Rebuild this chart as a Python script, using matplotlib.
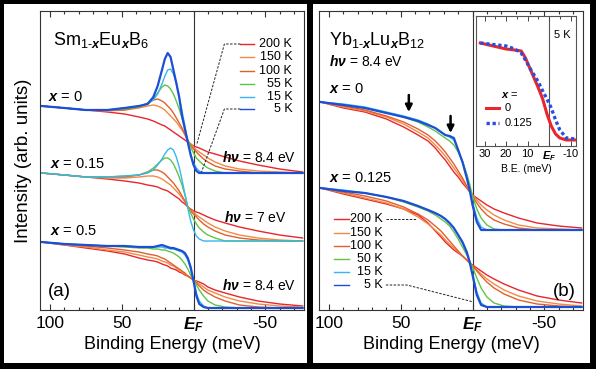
import matplotlib
matplotlib.use('Agg')
import matplotlib.pyplot as plt
from matplotlib.patches import Rectangle
from matplotlib.ticker import MultipleLocator

plt.rcParams['font.family'] = ['Liberation Sans', 'DejaVu Sans']
plt.rcParams['mathtext.fontset'] = 'custom'
plt.rcParams['mathtext.rm'] = 'Liberation Sans'
plt.rcParams['mathtext.it'] = 'Liberation Sans:italic'
plt.rcParams['mathtext.bf'] = 'Liberation Sans:bold'
plt.rcParams['mathtext.bfit'] = 'Liberation Sans:italic:bold'

# ---- data (binding energy in meV, intensity in arb. units incl. offsets) ----
temps_a = ['200 K', '150 K', '100 K', '55 K', '15 K', '5 K']
temps_b = ['200 K', '150 K', '100 K', '50 K', '15 K', '5 K']
colors = ['#e8262b', '#f28a46', '#e0602c', '#5fc447', '#38b6ee', '#1c4fd6']
widths = [1.0, 1.0, 1.0, 1.0, 1.0, 1.6]

energy_a = [106, 90, 75, 60, 48, 38, 32, 28, 25, 22, 20, 18, 16, 14, 12, 10,
            8, 6, 4, 2, 0, -2, -4, -7, -10, -15, -22, -32, -45, -60, -76]

# Sm1-xEuxB6, x = 0, hv = 8.4 eV
sm_x0 = [
    [204, 202, 200, 198, 196, 193, 191, 189, 187, 185, 184, 182, 180, 178, 176, 174,
     172, 170, 168, 166, 164, 163, 162, 160, 158, 156, 153, 149, 145, 141, 138],
    [204, 202, 200, 199, 200, 202, 204, 205, 204, 202, 200, 197, 194, 191, 188, 184,
     180, 175, 169, 166, 163, 160, 158, 155, 152, 148, 144, 141, 139, 138, 137],
    [204, 202, 200, 200, 200, 203, 207, 210, 211, 209, 207, 204, 201, 197, 192, 187,
     182, 176, 169, 165, 161, 158, 155, 151, 148, 144, 141, 139, 137, 137, 137],
    [204, 202, 200, 200, 201, 203, 206, 211, 217, 223, 225, 224, 221, 216, 209, 201,
     192, 181, 170, 163, 157, 152, 149, 145, 142, 139, 137, 137, 137, 137, 137],
    [204, 202, 200, 200, 202, 204, 206, 210, 216, 226, 234, 240, 241, 236, 227, 213,
     199, 184, 168, 156, 147, 142, 139, 137, 137, 137, 137, 137, 137, 137, 137],
    [204, 202, 200, 200, 202, 204, 206, 213, 224, 240, 251, 257, 253, 240, 227, 213,
     194, 181, 168, 155, 145, 139, 137, 137, 137, 137, 137, 137, 137, 137, 137],
]
# x = 0.15, hv = 7 eV (200 K ... 15 K)
sm_x015 = [
    [137, 135, 133, 131, 129, 127, 125, 124, 123, 121, 120, 119, 117, 115, 113, 111,
     108, 106, 103, 101, 99, 98, 97, 95, 93, 90, 87, 83, 79, 75, 72],
    [137, 135, 133, 132, 132, 133, 134, 134, 133, 131, 129, 127, 125, 122, 119, 116,
     112, 108, 103, 100, 98, 95, 93, 90, 87, 83, 79, 75, 72, 70, 69],
    [137, 135, 133, 133, 133, 135, 138, 140, 140, 138, 136, 133, 130, 127, 123, 119,
     114, 109, 103, 99, 96, 93, 90, 86, 83, 79, 75, 72, 70, 69, 69],
    [137, 135, 133, 133, 134, 135, 138, 142, 146, 150, 152, 152, 150, 146, 140, 133,
     125, 115, 104, 97, 91, 86, 82, 78, 75, 72, 69, 69, 69, 69, 69],
    [137, 135, 133, 133, 134, 135, 137, 140, 145, 151, 156, 160, 162, 160, 153, 143,
     130, 116, 102, 89, 80, 74, 71, 69, 69, 69, 69, 69, 69, 69, 69],
]
# x = 0.5, hv = 8.4 eV
sm_x05 = [
    [68, 65, 62, 59, 56, 52, 50, 49, 48, 46, 45, 44, 42, 41, 40, 38,
     37, 35, 34, 32, 30, 29, 28, 26, 23, 20, 17, 13, 9, 6, 4],
    [68, 65, 63, 60, 58, 55, 53, 52, 51, 49, 48, 47, 45, 44, 42, 40,
     38, 36, 34, 32, 30, 28, 26, 23, 20, 17, 13, 9, 6, 4, 3],
    [68, 66, 64, 62, 60, 58, 56, 55, 54, 52, 51, 49, 47, 45, 43, 41,
     39, 37, 34, 32, 30, 27, 24, 20, 17, 13, 9, 5, 3, 2, 2],
    [68, 66, 65, 64, 63, 62, 62, 61, 61, 60, 60, 59, 58, 57, 55, 53,
     50, 46, 41, 35, 30, 25, 20, 14, 9, 5, 3, 2, 2, 2, 2],
    [68, 66, 65, 64, 64, 63, 63, 63, 63, 63, 62, 62, 61, 61, 60, 59,
     58, 55, 50, 41, 29, 17, 9, 4, 2, 2, 2, 2, 2, 2, 2],
    [68, 66, 65, 64, 64, 63, 63, 63, 64, 65, 64, 63, 62, 62, 61, 60,
     59, 57, 52, 43, 29, 14, 6, 3, 2, 2, 2, 2, 2, 2, 2],
]

energy_b = [106, 90, 75, 60, 48, 38, 31, 26, 22, 19, 16, 13, 10, 7, 4, 2, 0,
            -3, -6, -10, -15, -22, -32, -45, -60, -76]

# Yb1-xLuxB12, x = 0
yb_x0 = [
    [208, 202, 198, 191, 183, 175, 169, 162, 155, 150, 144, 138, 133, 127, 122, 118, 115,
     112, 109, 105, 101, 97, 92, 87, 84, 82],
    [208, 203, 199, 193, 186, 178, 172, 165, 159, 154, 148, 142, 136, 130, 123, 119, 115,
     110, 105, 100, 95, 90, 85, 82, 81, 80],
    [208, 204, 200, 194, 188, 181, 175, 169, 163, 158, 152, 146, 139, 132, 124, 119, 114,
     107, 101, 95, 90, 86, 82, 80, 80, 80],
    [208, 205, 202, 197, 193, 188, 183, 179, 175, 172, 169, 165, 158, 149, 136, 126, 114,
     101, 92, 85, 81, 80, 80, 80, 80, 80],
    [208, 206, 203, 198, 194, 190, 186, 182, 178, 175, 173, 170, 160, 148, 133, 121, 108,
     92, 83, 80, 80, 80, 80, 80, 80, 80],
    [208, 205, 202, 197, 193, 189, 185, 182, 178, 175, 174, 172, 160, 148, 132, 120, 105,
     88, 80, 80, 80, 80, 80, 80, 80, 80],
]
# x = 0.125
yb_x0125 = [
    [122, 116, 111, 106, 101, 95, 87, 79, 73, 68, 64, 60, 57, 54, 50, 47, 45,
     42, 39, 35, 31, 26, 20, 14, 10, 7],
    [122, 117, 112, 107, 101, 93, 86, 80, 75, 70, 66, 62, 58, 54, 50, 47, 44,
     40, 36, 31, 26, 20, 14, 9, 6, 4],
    [122, 118, 114, 109, 103, 96, 90, 84, 79, 74, 69, 64, 59, 54, 50, 47, 44,
     39, 34, 28, 22, 16, 10, 6, 4, 3],
    [122, 119, 117, 113, 108, 103, 99, 95, 91, 88, 84, 78, 71, 63, 55, 49, 43,
     32, 22, 13, 7, 4, 3, 3, 3, 3],
    [122, 120, 117, 113, 109, 104, 100, 97, 94, 91, 87, 82, 75, 67, 57, 48, 37,
     18, 7, 3, 3, 3, 3, 3, 3, 3],
    [122, 119, 117, 113, 109, 104, 100, 97, 94, 91, 87, 82, 75, 68, 58, 48, 35,
     15, 5, 3, 3, 3, 3, 3, 3, 3],
]

# inset, 5 K
energy_inset = [32, 28, 24, 20, 16, 13, 11, 9, 7, 5, 3, 1, -1, -3, -5, -8, -12]
inset_x0 = [103, 101, 99, 97, 96, 95, 88, 78, 68, 58, 47, 32, 20, 12, 8, 6, 6]
inset_x0125 = [103, 102, 101, 100, 97, 93, 86, 78, 71, 64, 55, 47, 38, 26, 16, 8, 7]

EF = r'$\mathbfit{E}_{\mathbfit{F}}$'
HV = r'$\mathbfit{h\nu}$'


def style_axis(ax):
    ax.set_xlim(107, -77)
    ax.set_ylim(0, 299)
    ax.set_xticks([100, 50, 0, -50])
    ax.set_xticklabels(['100', '50', EF, '-50'])
    ax.get_xticklabels()[2].set_fontsize(15)
    ax.xaxis.set_minor_locator(MultipleLocator(10))
    ax.set_yticks([])
    ax.tick_params(which='both', direction='in', top=True, width=0.8,
                   color='#333', labelsize=12.5, pad=4)
    ax.tick_params(which='major', length=4.5)
    ax.tick_params(which='minor', length=2.5)
    for s in ax.spines.values():
        s.set_linewidth(0.8)
        s.set_color('#333')
    ax.axvline(0, color='#333', lw=0.8, zorder=1)
    ax.set_xlabel('Binding Energy (meV)', fontsize=13, labelpad=1)


fig = plt.figure(figsize=(5.96, 3.69), dpi=100, facecolor='black')
for x0, w in [(4, 303), (313, 277)]:
    fig.add_artist(Rectangle((x0 / 596, 6 / 369), w / 596, 359 / 369,
                             transform=fig.transFigure, facecolor='white',
                             edgecolor='none', zorder=-1))

ax_a = fig.add_axes([40 / 596, 59 / 369, 264 / 596, 299 / 369])
ax_b = fig.add_axes([319 / 596, 59 / 369, 264 / 596, 299 / 369])
ax_in = fig.add_axes([476 / 596, 223 / 369, 100 / 596, 130 / 369])

# ---- panel (a) ----
style_axis(ax_a)
for curves in (sm_x0, sm_x015, sm_x05):
    for i, row in enumerate(curves):
        ax_a.plot(energy_a, row, color=colors[i], lw=widths[i], zorder=2)
ax_a.set_ylabel('Intensity (arb. units)', fontsize=13.5, labelpad=6)

ax_a.text(98, 270, r'Sm$_{\text{1-}\mathbfit{x}}$Eu$_{\mathbfit{x}}$B$_{6}$',
          fontsize=13, ha='left', va='center')
ax_a.text(101.5, 213, r'$\mathbfit{x}$ = 0', fontsize=10.5, va='center')
ax_a.text(100, 146, r'$\mathbfit{x}$ = 0.15', fontsize=10.5, va='center')
ax_a.text(100, 79, r'$\mathbfit{x}$ = 0.5', fontsize=10.5, va='center')
ax_a.text(-71.5, 153, HV + ' = 8.4 eV', fontsize=10, ha='right', va='center')
ax_a.text(-64.6, 92, HV + ' = 7 eV', fontsize=10, ha='right', va='center')
ax_a.text(-71.5, 25, HV + ' = 8.4 eV', fontsize=10, ha='right', va='center')
ax_a.text(101.5, 18, '(a)', fontsize=13.5, va='center')

leg_rows_a = [266, 253, 239, 226, 213, 201]
for i, t in enumerate(temps_a):
    ax_a.plot([-32.6, -42.4], [leg_rows_a[i]] * 2, color=colors[i], lw=1.0)
    ax_a.text(-68.8, leg_rows_a[i], t, fontsize=9, ha='right', va='center')
ax_a.plot([-32.6, -21.5, -2.1], [266, 266, 165], color='#222', lw=0.7,
          dashes=(2.5, 1.5))
ax_a.plot([-32.6, -21.5, -5.6], [201, 201, 138], color='#222', lw=0.7,
          dashes=(2.5, 1.5))

# ---- panel (b) ----
style_axis(ax_b)
for curves in (yb_x0, yb_x0125):
    for i, row in enumerate(curves):
        ax_b.plot(energy_b, row, color=colors[i], lw=widths[i], zorder=2)

ax_b.text(100, 270, r'Yb$_{\text{1-}\mathbfit{x}}$Lu$_{\mathbfit{x}}$B$_{12}$',
          fontsize=13, ha='left', va='center')
ax_b.text(100, 248, HV + ' = 8.4 eV', fontsize=10, va='center')
ax_b.text(100, 221, r'$\mathbfit{x}$ = 0', fontsize=10.5, va='center')
ax_b.text(100, 132, r'$\mathbfit{x}$ = 0.125', fontsize=10.5, va='center')
ax_b.text(-72.2, 18, '(b)', fontsize=13.5, ha='right', va='center')
for ex, tip in [(44.4, 198), (15.3, 177)]:
    ax_b.annotate('', xy=(ex, tip), xytext=(ex, tip + 17),
                  arrowprops=dict(arrowstyle='-|>', color='k', lw=1.8,
                                  mutation_scale=10, shrinkA=0, shrinkB=0))

leg_rows_b = [91, 77, 64, 51, 38, 25]
for i, t in enumerate(temps_b):
    ax_b.plot([96.5, 86.1], [leg_rows_b[i]] * 2, color=colors[i], lw=1.0)
    ax_b.text(62.5, leg_rows_b[i], t, fontsize=9, ha='right', va='center')
ax_b.plot([60.4, 38.9], [91, 91], color='#222', lw=0.7, dashes=(2.5, 1.5))
ax_b.plot([60.4, 45.8, -0.7], [25, 25, 8], color='#222', lw=0.7,
          dashes=(2.5, 1.5))

# ---- inset ----
ax_in.set_xlim(34, -12.5)
ax_in.set_ylim(0, 130)
ax_in.plot(energy_inset, inset_x0, color='#e8262b', lw=2.2, zorder=3)
ax_in.plot(energy_inset, inset_x0125, color='#2a4fe0', lw=2.4,
           linestyle=(0, (1, 0.8)), zorder=3)
ax_in.axvline(0, color='#555', lw=0.8, zorder=1)
ax_in.set_xticks([30, 20, 10, 0, -10])
ax_in.set_xticklabels(['30', '20', '10', EF, '-10'])
ax_in.get_xticklabels()[3].set_fontsize(9.5)
ax_in.xaxis.set_minor_locator(MultipleLocator(5))
ax_in.set_yticks([])
ax_in.tick_params(which='both', direction='in', top=True, width=0.7,
                  color='#444', labelsize=8, pad=2)
ax_in.tick_params(which='major', length=3.5)
ax_in.tick_params(which='minor', length=2)
for s in ax_in.spines.values():
    s.set_linewidth(0.8)
    s.set_color('#555')
ax_in.set_xlabel('B.E. (meV)', fontsize=7.5, labelpad=1)
ax_in.text(-2.3, 111, '5 K', fontsize=8, va='center')
ax_in.text(22.3, 51, r'$\mathbfit{x}$ =', fontsize=8, va='center')
ax_in.plot([29.3, 23.3], [38, 38], color='#e8262b', lw=2.2)
ax_in.plot([29.3, 23.3], [23, 23], color='#2a4fe0', lw=2.4,
           linestyle=(0, (1, 0.8)))
ax_in.text(20.5, 38, '0', fontsize=8, va='center')
ax_in.text(20.5, 23, '0.125', fontsize=8, va='center')

fig.savefig('out.png', dpi=100, facecolor='black')
